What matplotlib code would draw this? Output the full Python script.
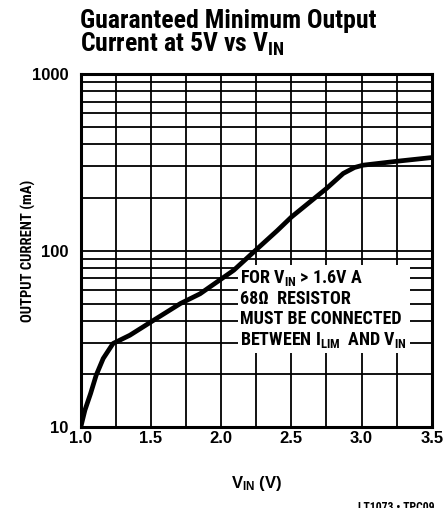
"""
Guaranteed minimum output current at 5V vs V_IN (LT1073 datasheet, TPC09).
"""

import matplotlib
matplotlib.use("Agg")
import matplotlib.pyplot as plt
from matplotlib.ticker import FixedLocator, FormatStrFormatter, NullFormatter

# curve
vin = [1.00, 1.03, 1.07, 1.11, 1.16, 1.23, 1.35, 1.52, 1.71, 1.85, 2.09, 2.23,
       2.40, 2.50, 2.75, 2.87, 2.95, 3.01, 3.25, 3.50]
iout = [10.0, 12.5, 15.5, 19.7, 24.5, 29.8, 33.2, 40.4, 50.2, 57.0, 77.5, 98.0,
        130.0, 155.0, 225.0, 274.0, 296.0, 305.0, 321.0, 337.0]

x_ticks = [1.0, 1.5, 2.0, 2.5, 3.0, 3.5]
x_minor = [1.25, 1.75, 2.25, 2.75, 3.25]
y_ticks = [10, 100, 1000]
y_minor = [20, 30, 40, 50, 60, 70, 80, 90, 200, 300, 400, 500, 600, 700, 800, 900]

note_lines = [
    "FOR $V_{IN}$ > 1.6V A",
    "68\u03a9  RESISTOR",
    "MUST BE CONNECTED",
    "BETWEEN $I_{LIM}$  AND $V_{IN}$",
]

NARROW = "Roboto Condensed"
WIDE = "Liberation Sans"

plt.rcParams["font.family"] = [NARROW, "DejaVu Sans"]
plt.rcParams["font.weight"] = "bold"
plt.rcParams["mathtext.fontset"] = "custom"
plt.rcParams["mathtext.default"] = "regular"

fig = plt.figure(figsize=(4.46, 5.08), dpi=100)
ax = fig.add_axes([0.181, 0.159, 0.787, 0.695])

ax.plot(vin, iout, color="black", linewidth=3.4, solid_capstyle="butt", zorder=4)

ax.set_yscale("log")
ax.set_xlim(1.0, 3.5)
ax.set_ylim(10, 1000)

ax.xaxis.set_major_locator(FixedLocator(x_ticks))
ax.xaxis.set_minor_locator(FixedLocator(x_minor))
ax.xaxis.set_major_formatter(FormatStrFormatter("%.1f"))
ax.yaxis.set_major_locator(FixedLocator(y_ticks))
ax.yaxis.set_minor_locator(FixedLocator(y_minor))
ax.yaxis.set_major_formatter(FormatStrFormatter("%d"))
ax.yaxis.set_minor_formatter(NullFormatter())

ax.grid(True, which="both", color="black", linewidth=1.3)
ax.tick_params(which="both", length=0)
ax.tick_params(axis="x", pad=3)
ax.tick_params(axis="y", pad=9)
for lab in ax.get_xticklabels() + ax.get_yticklabels():
    lab.set_family(WIDE)
    lab.set_fontsize(12)
    lab.set_fontweight("bold")

for sp in ax.spines.values():
    sp.set_linewidth(2.2)
    sp.set_zorder(5)

ax.set_ylabel("OUTPUT CURRENT (mA)", fontsize=10.5, fontweight="bold", labelpad=-3)
ax.set_xlabel("$V_{IN}$ (V)", family=WIDE, fontsize=12, fontweight="bold",
              labelpad=20)

# note with white backing over the grid
ax.text(0.455, 0.452, "\n".join(note_lines), transform=ax.transAxes,
        ha="left", va="top", fontsize=13, fontweight="bold", linespacing=1.15,
        bbox=dict(facecolor="white", edgecolor="none", pad=2), zorder=3)

fig.text(0.179, 0.945, "Guaranteed Minimum Output", fontsize=18.5,
         fontweight="bold", va="baseline", ha="left")
fig.text(0.179, 0.898, "Current at 5V vs $V_{IN}$", fontsize=18.5,
         fontweight="bold", va="baseline", ha="left")

fig.text(0.975, 0.013, "LT1073 \u2022 TPC09", fontsize=8.5, fontweight="bold",
         va="top", ha="right")

fig.savefig("out.png", dpi=100)
plt.close(fig)
